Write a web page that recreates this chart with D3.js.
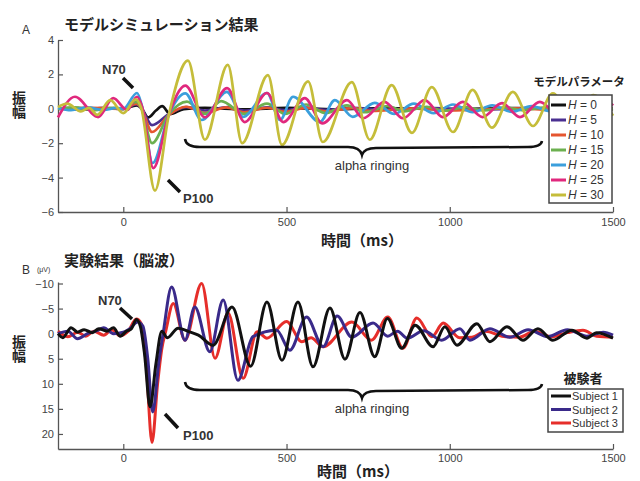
<!DOCTYPE html>
<html>
<head>
<meta charset="utf-8">
<script src="https://d3js.org/d3.v7.min.js"></script>
<style>
  body { margin: 0; background: #fff; }
  svg { display: block; }
  .tick text { font-family: "Liberation Sans", Arial, sans-serif; font-size: 11px; fill: #444; }
  .jp { font-family: "Noto Sans CJK JP", sans-serif; font-weight: bold; fill: #222; }
  .lat { font-family: "Liberation Sans", Arial, sans-serif; fill: #333; }
</style>
</head>
<body>
<script>
// ---- data ----
// A: model simulation, [time ms, amplitude] at peaks / troughs
const simH0 = [[-200,0],[-150,0.03],[-100,-0.03],[-50,0.03],[0,0],[40,0.2],[55,0.05],[76,-0.5],[100,-0.1],[119,0.15],[143,-0.3],[185,-0.02],[250,0.05],[370,-0.03],[500,0.05],[650,-0.03],[800,0.04],[1000,-0.03],[1200,0.04],[1500,0]];
const simH5 = [[-200,0.02],[-120,-0.05],[-60,0.05],[0,0],[40,0.25],[55,0.05],[88,-0.95],[140,-0.3],[195,0.1],[250,-0.1],[320,0.1],[370,-0.1],[440,0.08],[495,-0.08],[560,0.07],[620,-0.06],[700,0.05],[800,-0.05],[950,0.04],[1100,-0.04],[1300,0.03],[1500,0]];
const simH10 = [[-200,0],[-100,0.05],[0,0],[40,0.3],[55,0.05],[88,-1.35],[140,-0.35],[192,0.12],[250,-0.25],[315,0.08],[370,-0.2],[440,0.06],[495,-0.18],[560,0.05],[620,-0.15],[700,0.04],[760,-0.12],[900,0.03],[1000,-0.1],[1200,0.02],[1350,-0.08],[1500,0]];
const simH15 = [[-200,0],[-150,0.08],[-90,-0.08],[-30,0.06],[0,0],[40,0.4],[55,0.05],[88,-2.0],[140,-0.3],[195,0.42],[250,-0.3],[300,0.45],[370,-0.3],[440,0.3],[495,-0.3],[560,0.25],[620,-0.25],[685,0.2],[740,-0.2],[810,0.15],[860,-0.15],[930,0.12],[980,-0.12],[1050,0.1],[1100,-0.1],[1170,0.08],[1220,-0.08],[1290,0.07],[1340,-0.07],[1410,0.06],[1460,-0.06],[1500,0]];
const simH20 = [[-200,0.05],[-160,-0.08],[-110,0.08],[-60,-0.08],[-20,0.05],[0,0],[42,0.92],[58,0.1],[90,-3.15],[140,-0.3],[190,0.9],[240,-0.65],[317,0.98],[367,-0.47],[440,0.92],[480,-0.65],[520,0.7],[602,-0.77],[648,0.5],[703,-0.47],[770,0.35],[830,-0.3],[890,0.3],[950,-0.25],[1010,0.25],[1070,-0.2],[1130,0.2],[1190,-0.18],[1250,0.15],[1310,-0.15],[1370,0.12],[1430,-0.1],[1490,0.1]];
const simH25 = [[-200,-0.5],[-148,0.7],[-77,-0.48],[-31,0.62],[12,-0.07],[42,0.7],[58,0.1],[92,-3.45],[140,-0.3],[190,1.35],[250,-0.5],[318,1.2],[372,-0.77],[440,0.92],[490,-0.77],[556,0.62],[610,-0.85],[685,0.5],[735,-0.55],[800,0.4],[857,-0.55],[923,0.5],[979,-0.48],[1040,0.4],[1100,-0.48],[1160,0.33],[1215,-0.48],[1276,0.4],[1335,-0.4],[1395,0.35],[1455,-0.35],[1500,0.3]];
const simH30 = [[-200,0.1],[-172,0.3],[-130,-0.15],[-105,0.05],[-80,-0.35],[-40,0.5],[0,-0.25],[38,0.55],[55,0.05],[97,-4.76],[140,-0.3],[198,2.8],[250,-1.8],[320,2.55],[364,-2.0],[443,1.96],[486,-2.1],[566,1.6],[611,-1.93],[700,1.55],[755,-1.8],[822,1.38],[884,-1.4],[945,1.26],[1010,-1.35],[1070,1.1],[1129,-1.1],[1193,0.98],[1255,-1.0],[1316,0.9],[1378,-0.85],[1440,0.8],[1500,-0.4]];
const simSeries = [simH0, simH5, simH10, simH15, simH20, simH25, simH30];
const simParams = [0, 5, 10, 15, 20, 25, 30];

// B: EEG, [time ms, amplitude uV]
const eegS1 = [[-200,0],[-185,0.8],[-160,-1.2],[-140,-0.3],[-120,-0.8],[-95,-0.2],[-75,-1.0],[-50,-0.5],[-30,-1.2],[-10,0.5],[10,-0.5],[25,-1.0],[40,-2.8],[52,-1.5],[65,4],[82,14.6],[100,6],[118,-0.5],[135,0.8],[168,-1.1],[205,-0.3],[230,0.3],[275,2.3],[333,-5.3],[390,6.5],[440,-6.3],[486,5.3],[535,-6.3],[581,6.6],[633,-5.1],[679,5.1],[725,-4.2],[770,4.6],[809,-3.0],[853,2.9],[894,-1.7],[949,2.6],[985,-1.4],[1022,2.3],[1083,-2.0],[1123,1.6],[1175,-1.4],[1224,1.3],[1270,-1.0],[1316,1.3],[1374,-0.7],[1420,0.9],[1450,-0.2],[1500,0.9]];
const eegS2 = [[-200,0],[-170,-0.5],[-140,1.0],[-110,0],[-80,-0.6],[-60,-1.2],[-30,0],[0,-0.3],[20,-1],[44,-2.3],[60,-1.5],[75,5],[90,15.6],[110,5],[122,0],[148,-9.3],[189,1.3],[219,-5.3],[265,3.6],[306,-6.7],[351,9.3],[397,0.6],[470,-0.7],[510,3.3],[561,-3.3],[612,2.6],[655,-3.5],[700,0.7],[765,-2.1],[810,0.5],[840,-0.5],[870,0.9],[920,-0.6],[975,1.3],[1031,-1.0],[1062,1.3],[1123,-1.0],[1184,0.7],[1240,-0.8],[1300,0.6],[1360,-0.8],[1420,0.5],[1470,-0.3],[1500,0.3]];
const eegS3 = [[-200,-0.5],[-170,0.6],[-140,-0.3],[-115,0.5],[-90,-0.5],[-60,0.3],[-35,-0.8],[-10,0.4],[15,-0.5],[40,-2.9],[55,-2],[70,6],[88,21.7],[105,10],[118,3],[130,-0.5],[153,-6],[189,1.3],[240,-10],[281,4.9],[321,-4.1],[367,8.9],[410,-0.4],[440,0.9],[500,-2.4],[547,1.6],[575,0.8],[612,2.6],[700,-2.3],[760,1.3],[810,-3.3],[857,2.9],[899,-3.1],[945,0.6],[980,-2.1],[1030,0.8],[1068,0.7],[1110,-0.5],[1160,0.5],[1214,0.7],[1260,-0.5],[1310,0.6],[1360,-0.2],[1408,-0.7],[1450,0.5],[1500,0.7]];
const eegSeries = [eegS1, eegS2, eegS3];
const eegSubjects = ["Subject 1", "Subject 2", "Subject 3"];

const timeTicks = [0, 500, 1000, 1500];
const ampTicksA = [-6, -4, -2, 0, 2, 4];
const ampTicksB = [-10, -5, 0, 5, 10, 15, 20];

// ---- styles ----
const simColors = ["#111111", "#4a2f91", "#e5552f", "#6cb050", "#3b9fdc", "#e0287d", "#c5bd3a"];
const eegColors = ["#111111", "#3a2a8a", "#e62e2a"];

const svg = d3.select("body").append("svg").attr("width", 640).attr("height", 481);

const x = d3.scaleLinear().domain([-200, 1500]).range([58, 613]);
const yA = d3.scaleLinear().domain([-6, 4]).range([212, 40]);
const yB = d3.scaleLinear().domain([-10.3, 23]).range([282, 449]);

function drawAxes(y, ticks, bottom, pad) {
  const gl = svg.append("g").attr("transform", "translate(58,0)")
    .call(d3.axisLeft(y).tickValues(ticks).tickSizeInner(-5).tickSizeOuter(0).tickPadding(4));
  const gb = svg.append("g").attr("transform", `translate(0,${bottom})`)
    .call(d3.axisBottom(x).tickValues(timeTicks).tickFormat(d3.format("d"))
      .tickSizeInner(-5).tickSizeOuter(0).tickPadding(pad));
  [gl, gb].forEach(g => {
    g.select(".domain").attr("stroke", "#555").attr("stroke-width", 1.3);
    g.selectAll(".tick line").attr("stroke", "#555").attr("stroke-width", 1.2);
  });
}

// panel A
drawAxes(yA, ampTicksA, 212, 6);
const lineA = d3.line().x(d => x(d[0])).y(d => yA(d[1])).curve(d3.curveMonotoneX);
svg.append("g").selectAll("path").data(simSeries).join("path")
  .attr("d", lineA).attr("fill", "none")
  .attr("stroke", (d, i) => simColors[i]).attr("stroke-width", 2.7)
  .attr("stroke-linejoin", "round");

// panel B
drawAxes(yB, ampTicksB, 449, 5);
const lineB = d3.line().x(d => x(d[0])).y(d => yB(d[1])).curve(d3.curveMonotoneX);
svg.append("g").selectAll("path").data(eegSeries.slice().reverse()).join("path")
  .attr("d", lineB).attr("fill", "none")
  .attr("stroke", (d, i) => eegColors[2 - i]).attr("stroke-width", 3)
  .attr("stroke-linejoin", "round");

// titles and labels
svg.append("text").attr("class", "lat").attr("x", 22).attr("y", 34).style("font-size", "12px").text("A");
svg.append("text").attr("class", "jp").attr("x", 64).attr("y", 30).style("font-size", "15px").text("モデルシミュレーション結果");
svg.append("text").attr("class", "lat").attr("x", 22).attr("y", 274).style("font-size", "12px").text("B");
svg.append("text").attr("class", "lat").attr("x", 37).attr("y", 272).style("font-size", "7px").text("(μV)");
svg.append("text").attr("class", "jp").attr("x", 64).attr("y", 266).style("font-size", "15px").text("実験結果（脳波）");

// vertical y label
[91, 335].forEach(yy => {
  svg.append("text").attr("class", "jp").attr("x", 19).attr("y", yy)
    .attr("writing-mode", "vertical-rl").style("font-size", "14px").text("振幅");
});
svg.append("text").attr("class", "jp").attr("x", 362).attr("y", 246).attr("text-anchor", "middle").style("font-size", "15px").text("時間（ms）");
svg.append("text").attr("class", "jp").attr("x", 358).attr("y", 477).attr("text-anchor", "middle").style("font-size", "15px").text("時間（ms）");

// peak annotations
const notes = [
  {t: "N70", tx: 102, ty: 74, l: [123, 78, 133, 88]},
  {t: "P100", tx: 183, ty: 203, l: [168, 180, 180, 192]},
  {t: "N70", tx: 98, ty: 305, l: [120, 308, 132, 319]},
  {t: "P100", tx: 183, ty: 440, l: [165, 414, 178, 428]}
];
notes.forEach(n => {
  svg.append("text").attr("class", "lat").attr("x", n.tx).attr("y", n.ty)
    .style("font-size", "13px").style("font-weight", "bold").text(n.t);
  svg.append("line").attr("x1", n.l[0]).attr("y1", n.l[1]).attr("x2", n.l[2]).attr("y2", n.l[3])
    .attr("stroke", "#111").attr("stroke-width", 3.5);
});

// braces
[[147, 170], [390, 413]].forEach(b => {
  const yb = b[0];
  svg.append("path")
    .attr("d", `M185,${yb - 8} Q186,${yb} 200,${yb} L348,${yb} Q360,${yb} 362,${yb + 8} Q364,${yb + 1} 376,${yb + 1} L528,${yb} Q541,${yb} 542,${yb - 6}`)
    .attr("fill", "none").attr("stroke", "#111").attr("stroke-width", 2.5);
  svg.append("text").attr("class", "lat").attr("x", 372).attr("y", b[1]).attr("text-anchor", "middle")
    .style("font-size", "13px").text("alpha ringing");
});

// legend A
svg.append("text").attr("class", "jp").attr("x", 579).attr("y", 86).attr("text-anchor", "middle").style("font-size", "11.5px").text("モデルパラメータ");
svg.append("rect").attr("x", 549).attr("y", 95).attr("width", 63).attr("height", 108)
  .attr("fill", "#fff").attr("stroke", "#444").attr("stroke-width", 1.5);
simParams.forEach((h, i) => {
  const yy = 105 + i * 15;
  svg.append("line").attr("x1", 551).attr("x2", 566).attr("y1", yy).attr("y2", yy)
    .attr("stroke", simColors[i]).attr("stroke-width", 3);
  const t = svg.append("text").attr("class", "lat").attr("x", 568).attr("y", yy + 4).style("font-size", "12px");
  t.append("tspan").style("font-style", "italic").text("H");
  t.append("tspan").text(" = " + h);
});

// legend B
svg.append("text").attr("class", "jp").attr("x", 583).attr("y", 383).attr("text-anchor", "middle").style("font-size", "13px").text("被験者");
svg.append("rect").attr("x", 548).attr("y", 389).attr("width", 75).attr("height", 43)
  .attr("fill", "#fff").attr("stroke", "#444").attr("stroke-width", 1.5);
eegSubjects.forEach((s, i) => {
  const yy = 396 + i * 13.5;
  svg.append("line").attr("x1", 551).attr("x2", 571).attr("y1", yy).attr("y2", yy)
    .attr("stroke", eegColors[i]).attr("stroke-width", 3);
  svg.append("text").attr("class", "lat").attr("x", 572).attr("y", yy + 4).style("font-size", "11px").text(s);
});
</script>
</body>
</html>
